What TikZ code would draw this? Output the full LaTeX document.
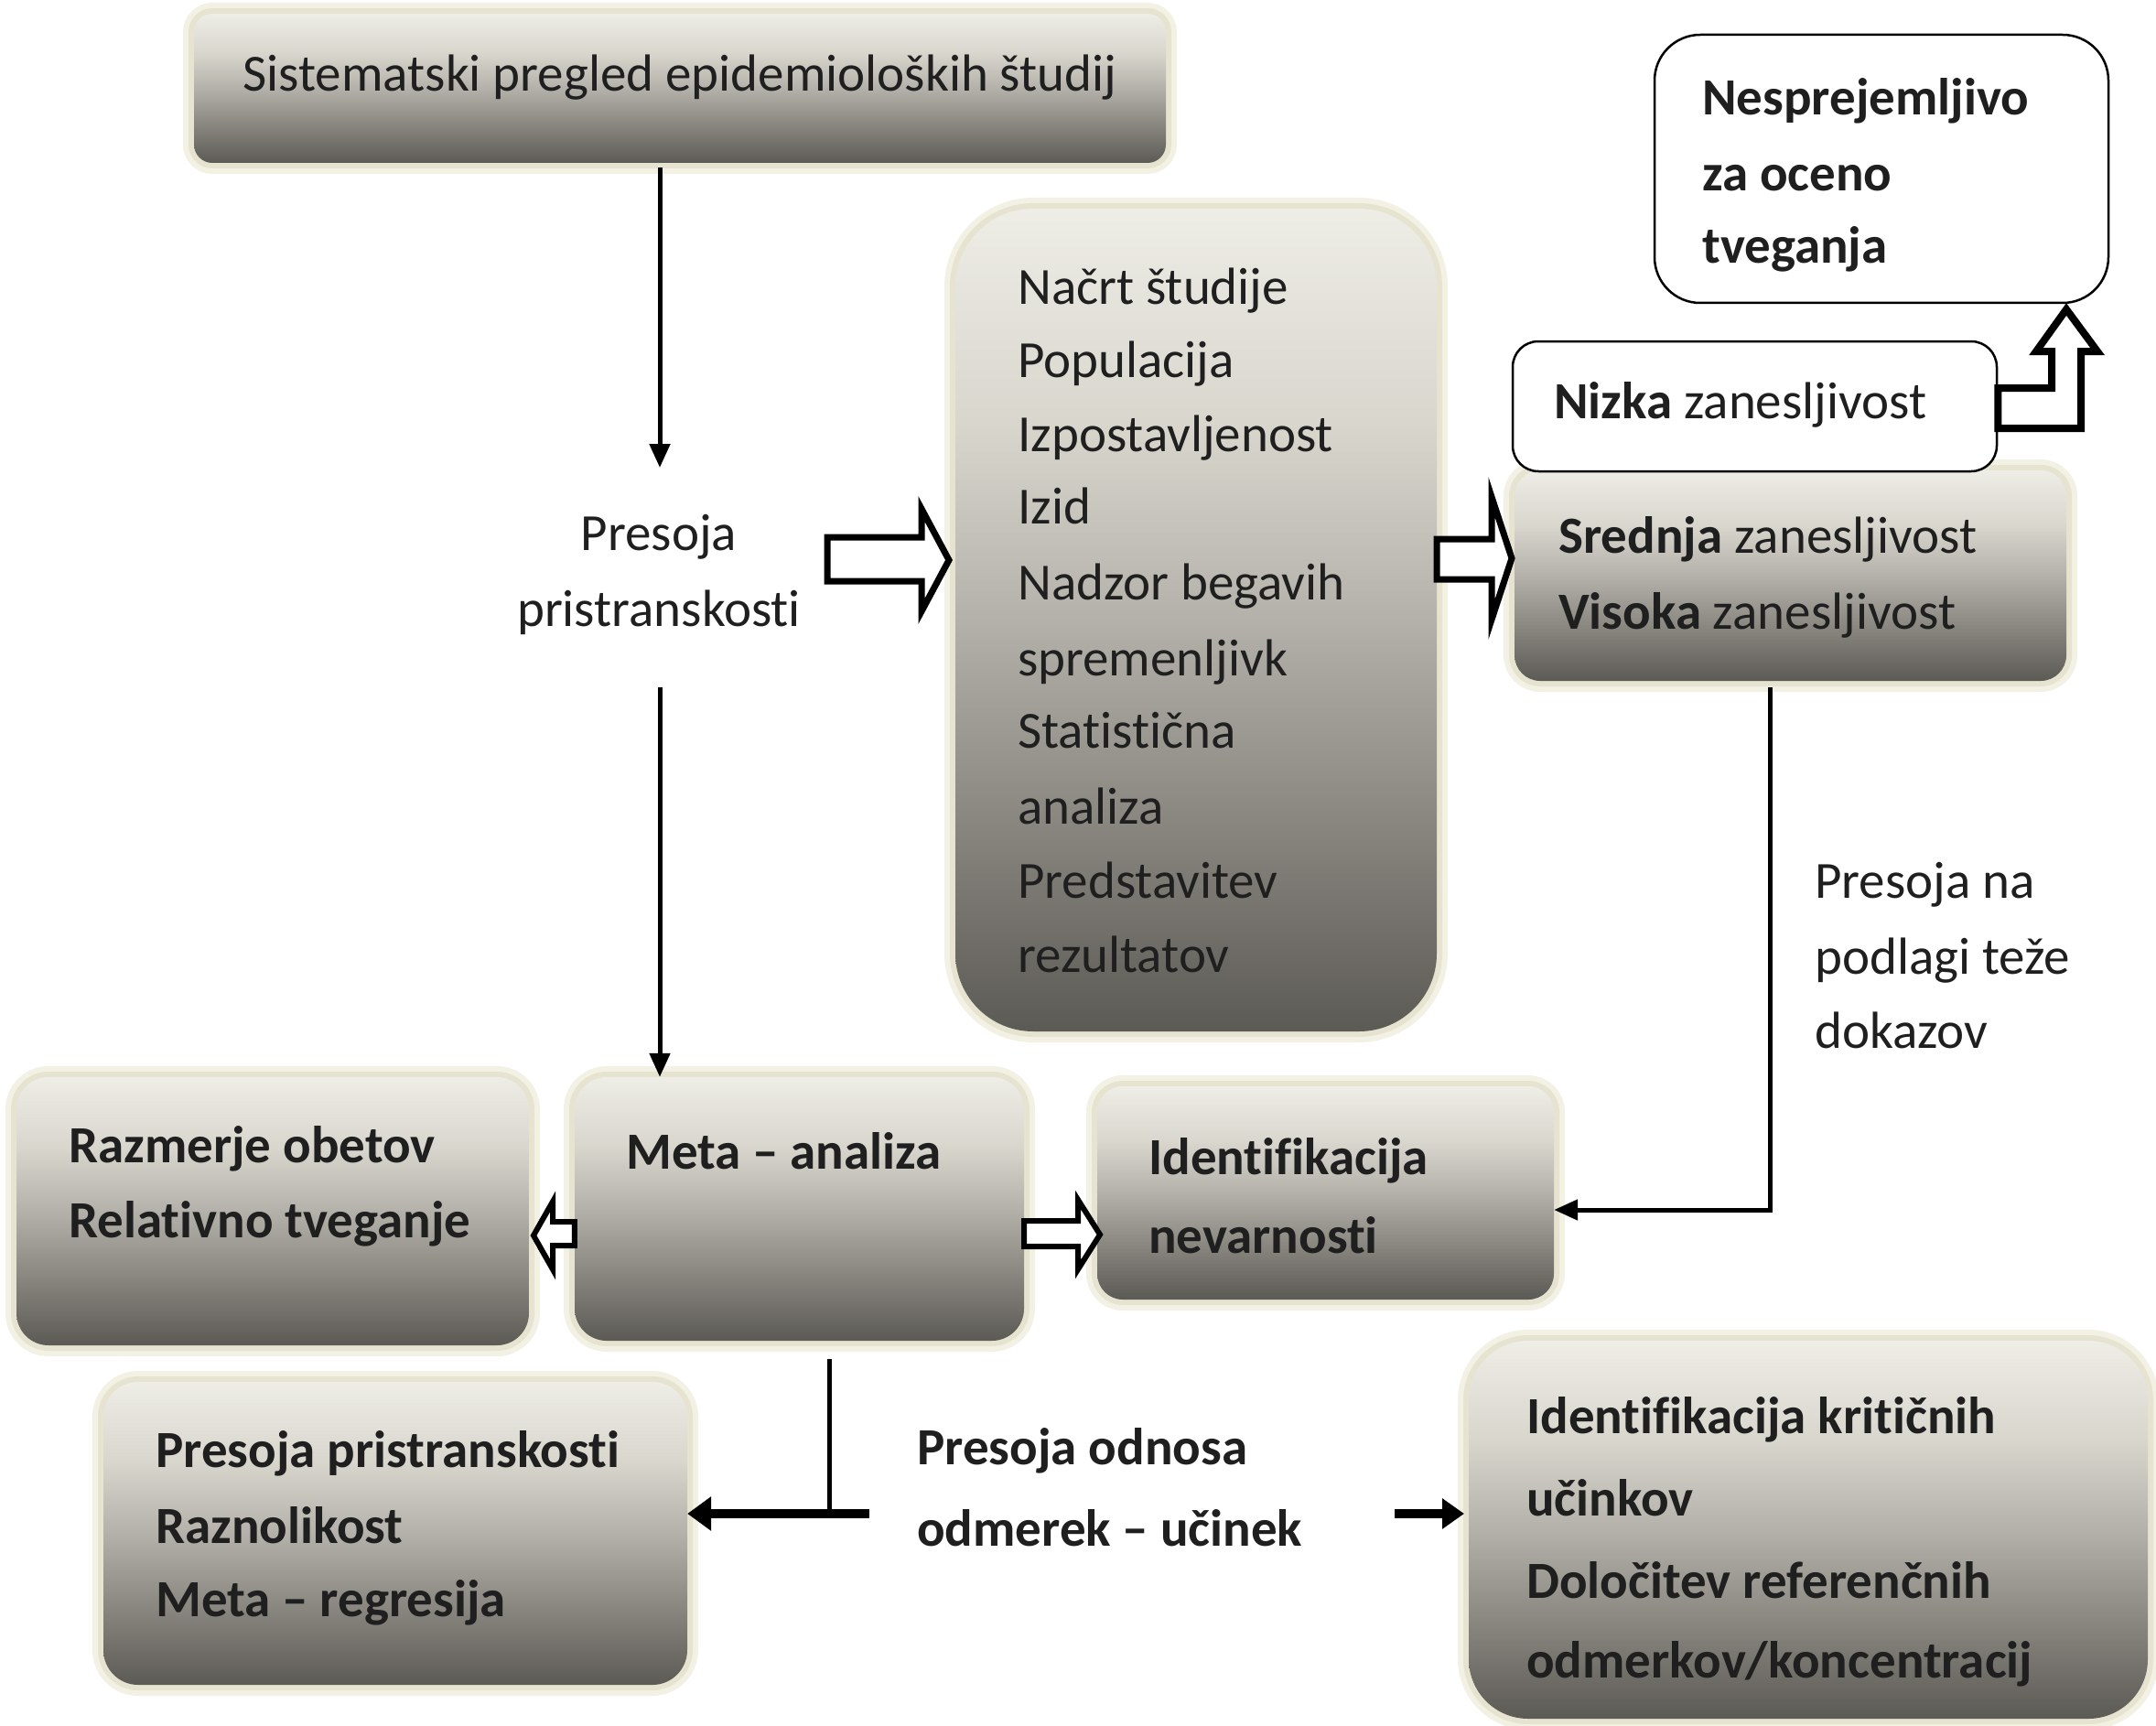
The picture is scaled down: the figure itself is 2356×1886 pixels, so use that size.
\documentclass[tikz,border=0pt]{standalone}
\usepackage{fontspec}
\setmainfont{Carlito}[Ligatures={NoCommon}]
\usetikzlibrary{arrows.meta,fit}
\definecolor{gtop}{HTML}{EEEDE6}
\definecolor{glt}{HTML}{D8D6CD}
\definecolor{gmid}{HTML}{B3B1A9}
\definecolor{gbot}{HTML}{5C5A54}
\definecolor{glowA}{HTML}{F3F1E4}
\definecolor{glowB}{HTML}{E6E4D0}
\pgfdeclareverticalshading{boxshade}{100bp}{color(0bp)=(gbot); color(25bp)=(gbot); color(50bp)=(gmid); color(62bp)=(glt); color(75bp)=(gtop); color(100bp)=(gtop)}
\begin{document}
\begin{tikzpicture}[x=1pt,y=-1pt,
 gbox/.style={rectangle, inner sep=0pt, shade, shading=boxshade, preaction={draw=glowA,line width=24pt}, preaction={draw=glowB,line width=12pt}},
 wbox/.style={rectangle, inner sep=0pt, draw=black, line width=2.5pt, fill=white},
 txt/.style={anchor=west, inner sep=0pt, text height=36pt, text depth=0pt, font=\fontsize{57}{68}\selectfont, text=black!88},
 ctxt/.style={txt, anchor=center},
 arr/.style={line width=5pt, -{Triangle[length=26pt,width=22pt]}},
 blockarrow/.style={draw=black, fill=white, line width=7pt, line join=miter},
]
\fill[white] (0,0) rectangle (2356,1886);
\useasboundingbox (0,0) rectangle (2356,1886);

% boxes
\node[gbox, rounded corners=20pt, fit={(212,15) (1274,178)}] (top) {};
\node[wbox, rounded corners=50pt, fit={(1808,38) (2304,331)}] (nesp) {};
\node[gbox, rounded corners=28pt, fit={(1655,514) (2258,744)}] (sred) {};
\node[wbox, rounded corners=28pt, fit={(1653,373) (2182,515)}] (nizka) {};
\node[gbox, rounded corners=85pt, fit={(1044,228) (1570,1127)}] (nacrt) {};
\node[gbox, rounded corners=35pt, fit={(628,1177) (1119,1465)}] (meta) {};
\node[gbox, rounded corners=35pt, fit={(18,1177) (578,1470)}] (razm) {};
\node[gbox, rounded corners=28pt, fit={(1199,1187) (1698,1420)}] (ident) {};
\node[gbox, rounded corners=38pt, fit={(113,1510) (751,1841)}] (bl) {};
\node[gbox, rounded corners=65pt, fit={(1605,1465) (2347,1878)}] (br) {};

% texts
\node[ctxt] (t-top) at (743,82) {Sistematski pregled epidemioloških študij};
\node[txt] (t-ne1) at (1860,108) {\bfseries Nesprejemljivo};
\node[txt] (t-ne2) at (1860,191) {\bfseries za oceno};
\node[txt] (t-ne3) at (1860,270) {\bfseries tveganja};
\node[txt] (t-niz) at (1698,439) {\textbf{Nizka} zanesljivost};
\node[txt] (t-sr1) at (1703,586) {\textbf{Srednja} zanesljivost};
\node[txt] (t-sr2) at (1703,669) {\textbf{Visoka} zanesljivost};
\node[txt] (t-na1) at (1112,314) {Načrt študije};
\node[txt] (t-na2) at (1112,394) {Populacija};
\node[txt] (t-na3) at (1112,475) {Izpostavljenost};
\node[txt] (t-na4) at (1112,554) {Izid};
\node[txt] (t-na5) at (1112,637) {Nadzor begavih};
\node[txt] (t-na6) at (1112,720) {spremenljivk};
\node[txt] (t-na7) at (1112,799) {Statistična};
\node[txt] (t-na8) at (1112,882) {analiza};
\node[txt] (t-na9) at (1112,963) {Predstavitev};
\node[txt] (t-na10) at (1112,1044) {rezultatov};
\node[ctxt] (t-pr1) at (720,583) {Presoja};
\node[ctxt] (t-pr2) at (720,666) {pristranskosti};
\node[txt] (t-meta) at (684,1259) {\bfseries Meta – analiza};
\node[txt] (t-ra1) at (75,1252) {\bfseries Razmerje obetov};
\node[txt] (t-ra2) at (75,1334) {\bfseries Relativno tveganje};
\node[txt] (t-id1) at (1255,1265) {\bfseries Identifikacija};
\node[txt] (t-id2) at (1255,1351) {\bfseries nevarnosti};
\node[txt] (t-pn1) at (1983,963) {Presoja na};
\node[txt] (t-pn2) at (1983,1046) {podlagi teže};
\node[txt] (t-pn3) at (1983,1127) {dokazov};
\node[txt] (t-bl1) at (170,1585) {\bfseries Presoja pristranskosti};
\node[txt] (t-bl2) at (170,1668) {\bfseries Raznolikost};
\node[txt] (t-bl3) at (170,1748) {\bfseries Meta – regresija};
\node[txt] (t-od1) at (1002,1582) {\bfseries Presoja odnosa};
\node[txt] (t-od2) at (1002,1671) {\bfseries odmerek – učinek};
\node[txt] (t-br1) at (1668,1548) {\bfseries Identifikacija kritičnih};
\node[txt] (t-br2) at (1668,1638) {\bfseries učinkov};
\node[txt] (t-br3) at (1668,1728) {\bfseries Določitev referenčnih};
\node[txt] (t-br4) at (1668,1815) {\bfseries odmerkov/koncentracij};

% connectors
\coordinate (c1) at (721,511);
\coordinate (c2) at (721,751);
\coordinate (c3) at (1934,1322);
\coordinate (c4) at (906,1654);
\coordinate (c5) at (950,1654);
\coordinate (c6) at (1524,1654);
\coordinate (c7) at (1600,1654);

\draw[arr, shorten <=5pt] (top.south -| c1) -- (c1);
\draw[arr] (c2) -- (c2 |- meta.north);
\draw[arr, shorten <=7pt] (sred.south -| c3) -- (c3) -- (ident.east |- c3);
\draw[line width=5pt, shorten <=20pt] (meta.south -| c4) -- (c4);
\draw[line width=10pt, -{Triangle[length=26pt,width=36pt]}] (c5) -- (bl.east |- c5);
\draw[line width=10pt, -{Triangle[length=24pt,width=32pt]}] (c6) -- (c7);

% block arrows
\draw[blockarrow] (904,587) -- (1007,587) -- (1007,556) -- (1037,612) -- (1007,668) -- (1007,635) -- (904,635) -- cycle;
\draw[blockarrow] (nacrt.east |- 0,589) -- (1630,589) -- (1630,543) -- (1652,610) -- (1630,677) -- (1630,633) -- (nacrt.east |- 0,633) -- cycle;
\draw[blockarrow, line width=8pt] (nizka.east |- 0,424) -- (2242,424) -- (2242,384) -- (2225,384) -- (2258,338) -- (2292,384) -- (2274,384) -- (2274,468) -- (nizka.east |- 0,468) -- cycle;
\draw[blockarrow, line width=6pt] (meta.west |- 0,1335) -- (604,1335) -- (604,1313) -- (583,1350) -- (604,1387) -- (604,1361) -- (meta.west |- 0,1361) -- cycle;
\draw[blockarrow, line width=6pt] (meta.east |- 0,1334) -- (1178,1334) -- (1178,1311) -- (1202,1349) -- (1178,1387) -- (1178,1362) -- (meta.east |- 0,1362) -- cycle;
\end{tikzpicture}
\end{document}
